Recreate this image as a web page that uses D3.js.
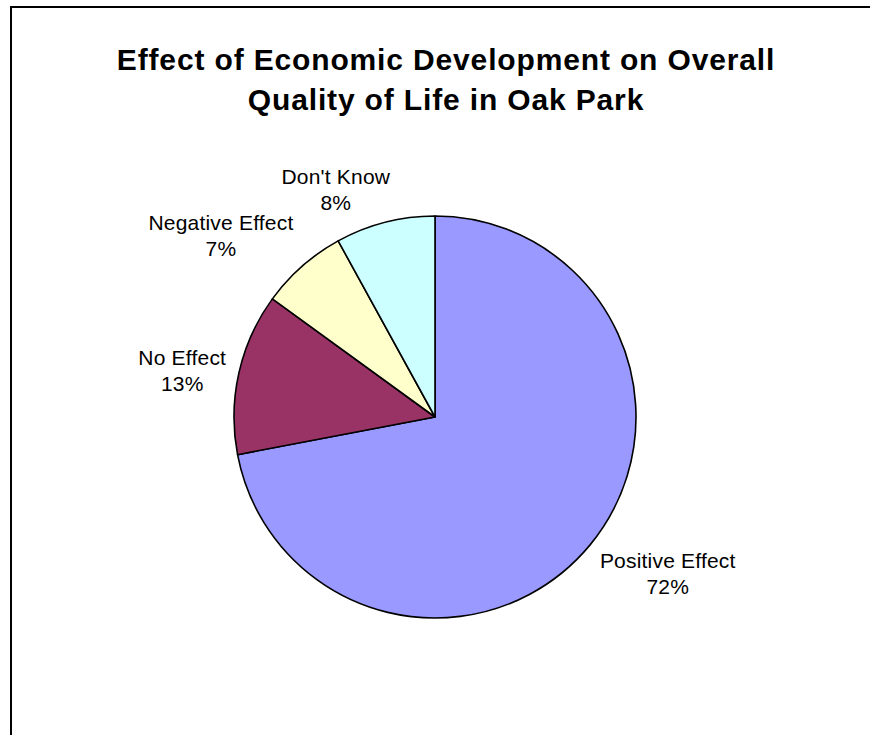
<!DOCTYPE html>
<html>
<head>
<meta charset="utf-8">
<script src="https://cdn.jsdelivr.net/npm/d3@7/dist/d3.min.js"></script>
<style>
  html, body { margin: 0; padding: 0; background: #fff; }
  svg { display: block; }
  text { font-family: "Liberation Sans", Arial, sans-serif; fill: #000; }
</style>
</head>
<body>
<svg id="chart" width="870" height="735"></svg>
<script>
const categories = ["Positive Effect", "No Effect", "Negative Effect", "Don't Know"];
const values = [72, 13, 7, 8];
const colors = ["#9999FF", "#993366", "#FFFFCC", "#CCFFFF"];
const titleLines = ["Effect of Economic Development on Overall", "Quality of Life in Oak Park"];

const W = 870, H = 735;
const svg = d3.select("#chart");

// chart frame (extends beyond the visible window on right and bottom)
svg.append("rect")
  .attr("x", 11).attr("y", 7)
  .attr("width", 900).attr("height", 800)
  .attr("fill", "#fff").attr("stroke", "#000").attr("stroke-width", 2);

// title
const title = svg.append("text")
  .attr("text-anchor", "middle")
  .style("font-weight", "bold")
  .style("font-size", "30px")
  .style("letter-spacing", "0.85px");
titleLines.forEach((t, i) => {
  title.append("tspan").attr("x", 446).attr("y", 70 + i * 40).text(t);
});

// pie
const cx = 435, cy = 417, r = 201;
const data = categories.map((c, i) => ({ cat: c, value: values[i], color: colors[i] }));
const pie = d3.pie().value(d => d.value).sort(null);
const arc = d3.arc().innerRadius(0).outerRadius(r);
const arcs = pie(data);

const g = svg.append("g").attr("transform", `translate(${cx},${cy})`);
g.selectAll("path").data(arcs).join("path")
  .attr("d", arc)
  .attr("fill", d => d.data.color)
  .attr("stroke", "#000")
  .attr("stroke-width", 1.6)
  .attr("stroke-linejoin", "round");

// labels
const total = d3.sum(values);
const fs = 21, lineGap = 26, capH = 15;
const labelR = r + 13;
const lg = svg.append("g");
arcs.forEach(a => {
  const th = (a.startAngle + a.endAngle) / 2;
  const s = Math.sin(th), c = Math.cos(th);
  const ax = cx + labelR * s, ay = cy - labelR * c;
  const lines = [a.data.cat, Math.round(a.data.value / total * 100) + "%"];
  const tmp = lg.append("text").style("font-size", fs + "px").style("letter-spacing", "0.2px");
  lines.forEach((l, i) => tmp.append("tspan").attr("x", 0).attr("y", i * lineGap).text(l));
  const w = tmp.node().getBBox().width;
  tmp.remove();
  const h = capH + lineGap;
  const fx = s >= 0 ? 0 : (Math.abs(s) < 0.3 ? 0.92 : 1);
  const left = ax - w * fx;
  const f = Math.abs(c) < 0.5 ? 0.5 : (c > 0 ? 1 : 0);
  const top = ay - h * f;
  const t = lg.append("text")
    .attr("text-anchor", "middle")
    .style("font-size", fs + "px")
    .style("letter-spacing", "0.2px");
  lines.forEach((l, i) => {
    t.append("tspan").attr("x", left + w / 2).attr("y", top + capH + i * lineGap).text(l);
  });
});
</script>
</body>
</html>
